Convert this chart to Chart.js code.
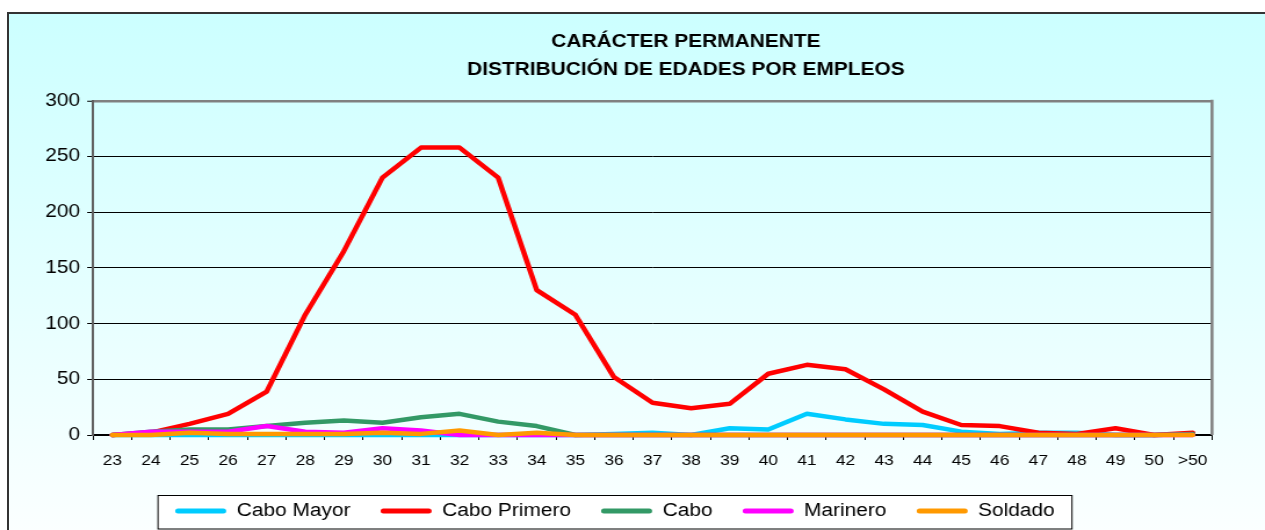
<!DOCTYPE html>
<html lang="es">
<head>
  <meta charset="utf-8">
  <title>Carácter permanente - distribución de edades por empleos</title>
  <script src="https://cdn.jsdelivr.net/npm/chart.js@4.4.0/dist/chart.umd.min.js"></script>
  <style>
    html, body { margin: 0; padding: 0; overflow: hidden; background: #ffffff; }
    .marco {
      position: absolute; left: 7px; top: 12px;
      width: 1300px; height: 560px;
      border-top: 2px solid #333; border-left: 2px solid #333;
      background: linear-gradient(to bottom, #ccffff 0px, #fbffff 518px);
    }
    #grafico { position: absolute; left: 0; top: 0; }
  </style>
</head>
<body>
  <div class="marco"></div>
  <!-- the bitmap is narrower than the box, so everything is drawn stretched sideways -->
  <canvas id="grafico" width="1090" height="530" style="width:1265px;height:530px"></canvas>

  <script>
    var edades = ['23', '24', '25', '26', '27', '28', '29', '30', '31', '32', '33', '34', '35', '36',
                  '37', '38', '39', '40', '41', '42', '43', '44', '45', '46', '47', '48', '49', '50', '>50'];

    var caboMayor   = [0, 0, 0, 0, 0, 0, 0, 0, 0, 0, 0, 0, 0, 1, 2, 0, 6, 5, 19, 14, 10, 9, 3, 1, 2, 2, 0, 0, 1];
    var caboPrimero = [0, 2, 10, 19, 39, 108, 165, 231, 258, 258, 231, 130, 108, 52, 29, 24, 28, 55, 63, 59, 41, 21, 9, 8, 2, 1, 6, 0, 2];
    var cabo        = [0, 3, 5, 5, 8, 11, 13, 11, 16, 19, 12, 8, 0, 0, 0, 0, 0, 0, 0, 0, 0, 0, 0, 0, 0, 0, 0, 0, 1];
    var marinero    = [0, 3, 3, 3, 8, 3, 2, 6, 4, 0, 0, 0, 0, 0, 0, 0, 0, 0, 0, 0, 0, 0, 0, 0, 0, 0, 0, 0, 0];
    var soldado     = [0, 0, 2, 1, 1, 1, 1, 2, 1, 4, 0, 2, 0, 0, 0, 0, 0, 0, 0, 0, 0, 0, 0, 0, 0, 0, 0, 0, 0];

    var yTicks = [0, 50, 100, 150, 200, 250, 300];

    // page x -> canvas x (canvas is 1090 wide, shown 1265 wide)
    var ESCALA_X = 1265 / 1090;
    function px(x) { return x / ESCALA_X; }

    Chart.defaults.font.family = '"Liberation Sans", Arial, sans-serif';
    Chart.defaults.color = '#000000';

    var marcoGrafico = {
      id: 'marcoGrafico',
      afterLayout: function(chart) {
        // title sits right of the plot centre, legend box left of it
        var t = chart.titleBlock;
        var tw = t.right - t.left;
        t.left = px(686) - tw / 2;
        t.right = t.left + tw;

        // a bit wider than the drawn box so the five items stay on one row
        var lg = chart.legend;
        var centro = (px(158) + px(1072)) / 2;
        lg.left = centro - 430;
        lg.right = centro + 430;
        lg.width = lg.right - lg.left;
        lg.top = 476;
        lg.bottom = lg.top + lg.height;
      },
      beforeDraw: function(chart) {
        var ctx = chart.ctx;
        ctx.save();
        ctx.fillStyle = '#ffffff';
        ctx.fillRect(px(158), 495, px(1072) - px(158), 34);
        ctx.strokeStyle = '#000000';
        ctx.lineWidth = 1;
        ctx.strokeRect(px(158), 495.5, px(1072) - px(158), 33.5);
        ctx.restore();
      },
      afterDraw: function(chart) {
        var a = chart.chartArea;
        var ctx = chart.ctx;
        ctx.save();
        ctx.strokeStyle = '#808080';
        ctx.lineWidth = 2.5;
        ctx.beginPath();
        ctx.moveTo(a.right, a.top - 1);
        ctx.lineTo(a.right, a.bottom);
        ctx.stroke();
        ctx.restore();
      }
    };

    function serie(label, data, color, order) {
      return {
        label: label,
        data: data,
        borderColor: color,
        backgroundColor: color,
        borderWidth: 4.5,
        pointRadius: 0,
        pointHoverRadius: 0,
        tension: 0,
        borderJoinStyle: 'round',
        borderCapStyle: 'round',
        clip: false,
        order: order
      };
    }

    new Chart(document.getElementById('grafico').getContext('2d'), {
      type: 'line',
      data: {
        labels: edades,
        datasets: [
          serie('Cabo Mayor', caboMayor, '#00ccff', 5),
          serie('Cabo Primero', caboPrimero, '#ff0000', 4),
          serie('Cabo', cabo, '#339966', 3),
          serie('Marinero', marinero, '#ff00ff', 2),
          serie('Soldado', soldado, '#ff9900', 1)
        ]
      },
      plugins: [marcoGrafico],
      options: {
        responsive: false,
        devicePixelRatio: 1,
        animation: false,
        events: [],
        layout: { padding: { left: 0, right: 1090 - px(1212), top: 0, bottom: 0 } },
        plugins: {
          title: {
            display: true,
            text: ['CARÁCTER PERMANENTE', 'DISTRIBUCIÓN DE EDADES POR EMPLEOS'],
            color: '#000000',
            font: { size: 18, weight: 'bold', lineHeight: 1.55 },
            padding: { top: 28, bottom: 17 }
          },
          legend: {
            position: 'bottom',
            labels: {
              color: '#000000',
              font: { size: 18 },
              boxWidth: px(51),
              boxHeight: 5,
              useBorderRadius: true,
              borderRadius: 2.5,
              padding: 26,
              sort: function(a, b) { return a.datasetIndex - b.datasetIndex; },
              generateLabels: function(chart) {
                return Chart.defaults.plugins.legend.labels.generateLabels(chart).map(function(it) {
                  it.fillStyle = it.strokeStyle;
                  it.lineWidth = 0;
                  return it;
                });
              }
            }
          },
          tooltip: { enabled: false }
        },
        scales: {
          x: {
            type: 'category',
            offset: true,
            afterFit: function(scale) { scale.height = 41; },
            grid: {
              drawOnChartArea: false,
              drawTicks: true,
              tickLength: 5,
              color: '#000000',
              offset: true
            },
            border: { display: true, color: '#000000', width: 1.5 },
            ticks: {
              font: { size: 15 },
              color: '#000000',
              padding: 12,
              maxRotation: 0,
              autoSkip: false
            }
          },
          y: {
            min: 0,
            max: 300,
            afterFit: function(scale) { scale.width = px(93); },
            afterBuildTicks: function(scale) {
              scale.ticks = yTicks.map(function(v) { return { value: v }; });
            },
            grid: {
              color: function(c) { return c.tick && c.tick.value === 300 ? '#808080' : '#000000'; },
              lineWidth: function(c) { return c.tick && c.tick.value === 300 ? 2.5 : 1; },
              tickColor: '#000000',
              tickWidth: 1,
              tickLength: 5
            },
            border: { display: true, color: '#606060', width: 2 },
            ticks: {
              font: { size: 18 },
              color: '#000000',
              padding: 6
            }
          }
        }
      }
    });
  </script>
</body>
</html>
